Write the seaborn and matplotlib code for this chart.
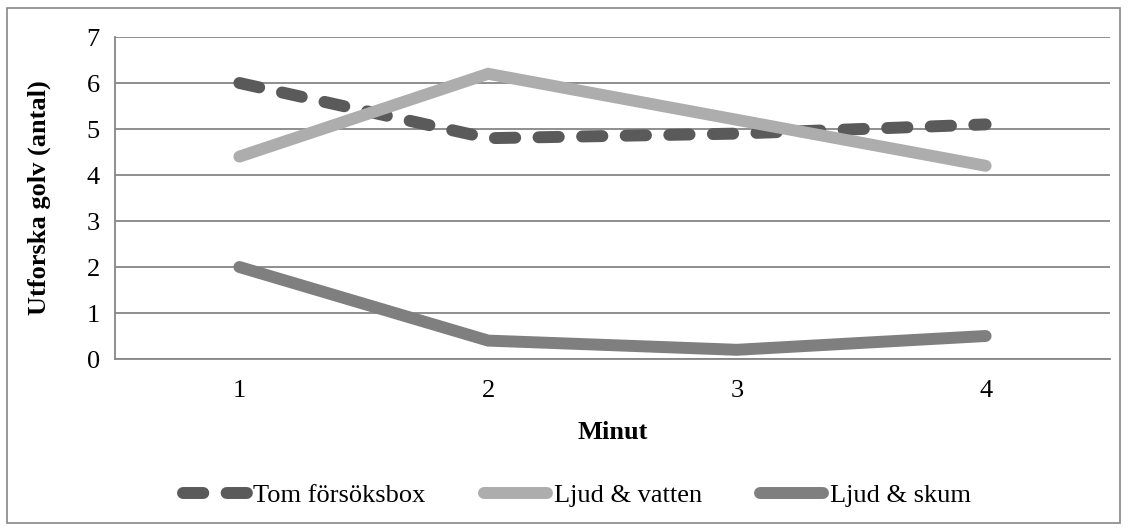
import matplotlib
matplotlib.use("Agg")
import matplotlib.pyplot as plt
import seaborn as sns
import pandas as pd
from matplotlib.patches import Rectangle
from matplotlib.lines import Line2D

minutes = [1, 2, 3, 4]
tom = [6.0, 4.8, 4.9, 5.1]
vatten = [4.4, 6.2, 5.2, 4.2]
skum = [2.0, 0.4, 0.2, 0.5]
series_names = ["Tom försöksbox", "Ljud & vatten", "Ljud & skum"]
y_ticks = [0, 1, 2, 3, 4, 5, 6, 7]

sns.set_theme(style="white")
plt.rcParams["font.family"] = ["Liberation Serif", "DejaVu Serif"]
plt.rcParams["text.color"] = "black"
plt.rcParams["axes.labelcolor"] = "black"

FS = 19

fig = plt.figure(figsize=(11.28, 5.31), dpi=100)
ax = fig.add_axes([115/1128, 1-359/531, (1110-115)/1128, (359-37)/531])

df = pd.DataFrame({"Minut": minutes * 3,
                   "value": tom + vatten + skum,
                   "serie": [series_names[0]] * 4 + [series_names[1]] * 4 + [series_names[2]] * 4})

colors = ["#5a5a5a", "#adadad", "#7f7f7f"]
lw = 8.6
dash = (1.7, 1.95)
for name, c in zip(series_names, colors):
    sub = df[df["serie"] == name]
    sns.lineplot(data=sub, x="Minut", y="value", ax=ax, color=c, lw=lw,
                 solid_capstyle="round", dash_capstyle="round", solid_joinstyle="miter",
                 legend=False, zorder=3)
ax.lines[0].set_dashes(dash)

ax.set_xlim(0.5, 4.5)
ax.set_ylim(0, 7)
ax.set_yticks(y_ticks)
ax.set_xticks(minutes)
ax.set_xticks([0.5, 1.5, 2.5, 3.5, 4.5], minor=True)
ax.tick_params(axis="x", which="major", length=0, pad=15, labelsize=FS, labelcolor="black")
ax.tick_params(axis="x", which="minor", length=7, width=1.2, color="#868686", direction="out")
ax.tick_params(axis="y", length=7, width=1.2, color="#868686", direction="out", pad=4,
               labelsize=FS, labelcolor="black")
ax.grid(axis="y", color="#868686", lw=1.3)
ax.set_axisbelow(True)
for s in ["top", "right"]:
    ax.spines[s].set_visible(False)
for s in ["left", "bottom"]:
    ax.spines[s].set_color("#868686")
    ax.spines[s].set_linewidth(1.3)

ax.set_xlabel("Minut", fontsize=FS, fontweight="bold")
ax.set_ylabel("Utforska golv (antal)", fontsize=FS, fontweight="bold")
ax.xaxis.set_label_coords(0.5, (359-421)/322)
ax.yaxis.set_label_coords((51-115)/995, 0.5)

handles = []
for i, (name, c) in enumerate(zip(series_names, colors)):
    h = Line2D([], [], color=c, lw=lw, solid_capstyle="round", dash_capstyle="round")
    if i == 0:
        h.set_dashes(dash)
    handles.append(h)
fig.legend(handles, series_names, loc="center", bbox_to_anchor=(577/1128, 1-495/531),
           ncol=3, frameon=False, fontsize=FS, handlelength=2.4, columnspacing=2.2,
           handletextpad=0.25, borderpad=0, borderaxespad=0)

fig.patches.append(Rectangle((7/1128, 8/531), (1120-7)/1128, (523-8)/531, transform=fig.transFigure,
                             fill=False, edgecolor="#868686", lw=1.2))

fig.savefig("out.png", dpi=100)
